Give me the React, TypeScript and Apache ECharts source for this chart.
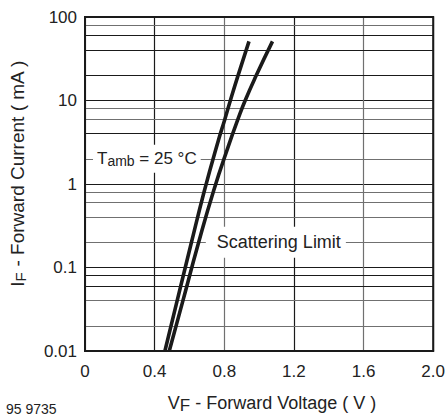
import React, { useEffect, useRef } from 'react';
import * as echarts from 'echarts';

// ---- data ----
const xMin = 0;
const xMax = 2.0;
const xInterval = 0.4;
const yMin = 0.01;
const yMax = 100;
const minorGridValues = [80, 60, 40, 20, 8, 6, 4, 2, 0.8, 0.6, 0.4, 0.2, 0.08, 0.06, 0.04, 0.02];
const minorGridDark = [false, true, true, true, false, false, true, false, false, false, false, false, true, true, false, false];

const curveLeftV = [0.459, 0.528, 0.608, 0.685, 0.766, 0.803, 0.835, 0.878, 0.942];
const curveLeftI = [0.01, 0.039, 0.187, 0.82, 3.32, 5.93, 10, 19.6, 51];
const curveRightV = [0.484, 0.561, 0.649, 0.738, 0.829, 0.878, 0.92, 0.982, 1.077];
const curveRightI = [0.01, 0.039, 0.187, 0.82, 3.06, 5.93, 10, 19.6, 51];

const tambLabelAt = [0.046, 2];
const scatterLabelAt = [0.694, 0.2];

const FONT = 'Liberation Sans, Arial, Helvetica, sans-serif';
const DARK = '#1a1a1a';
const GRAY = '#707070';

export default function App() {
  const ref = useRef<HTMLDivElement>(null);
  useEffect(() => {
    if (!ref.current) return;
    const chart = echarts.init(ref.current, undefined, { renderer: 'svg' });
    const left = curveLeftV.map((v, i) => [v, curveLeftI[i]]);
    const right = curveRightV.map((v, i) => [v, curveRightI[i]]);
    chart.setOption({
      animation: false,
      backgroundColor: '#fff',
      textStyle: { fontFamily: FONT },
      grid: { left: 85, right: 13, top: 17, bottom: 64, show: true, borderColor: DARK, borderWidth: 2, z: 5 },
      xAxis: {
        type: 'value',
        min: xMin,
        max: xMax,
        interval: xInterval,
        axisLine: { show: true, lineStyle: { color: DARK, width: 2 } },
        axisTick: { show: false },
        splitLine: { show: true, lineStyle: { color: [GRAY, DARK], width: 1.2 } },
        axisLabel: {
          margin: 12,
          color: '#222',
          fontSize: 17,
          fontFamily: FONT,
          formatter: (v: number) => (v === 0 ? '0' : v === 2 ? '{r|2.0}' : v.toFixed(1)),
          rich: { r: { fontSize: 17, fontFamily: FONT, color: '#222', padding: [0, 0, 6, 0] } },
        },
        name: '{m|V}{s|F}{m| - Forward Voltage ( V )}',
        nameLocation: 'middle',
        nameGap: 40,
        nameTextStyle: {
          padding: [0, 0, 0, 26],
          rich: {
            m: { fontSize: 18, fontFamily: FONT, color: '#222' },
            s: { fontSize: 17, fontFamily: FONT, color: '#222', padding: [6, 0, 0, 0] },
          },
        },
      },
      yAxis: {
        type: 'log',
        logBase: 10,
        min: yMin,
        max: yMax,
        axisLine: { show: true, lineStyle: { color: DARK, width: 2 } },
        axisTick: { show: false },
        splitLine: { show: true, lineStyle: { color: DARK, width: 1.2 } },
        axisLabel: {
          margin: 8,
          color: '#222',
          fontSize: 17,
          fontFamily: FONT,
          formatter: (v: number) => String(parseFloat(v.toPrecision(3))),
        },
        name: '{m|I}{s|F}{m| - Forward Current ( mA )}',
        nameLocation: 'middle',
        nameRotate: 90,
        nameGap: 57,
        nameTextStyle: {
          padding: [0, 0, 0, 21],
          rich: {
            m: { fontSize: 19, fontFamily: FONT, color: '#222' },
            s: { fontSize: 15, fontFamily: FONT, color: '#222', padding: [6, 0, 0, 0] },
          },
        },
      },
      series: [
        {
          type: 'line',
          data: left,
          smooth: 0.5,
          symbol: 'none',
          lineStyle: { color: DARK, width: 3.6 },
          z: 4,
          markLine: {
            silent: true,
            symbol: 'none',
            label: { show: false },
            z: 1,
            data: minorGridValues.map((v, i) => ({
              yAxis: v,
              lineStyle: { color: minorGridDark[i] ? DARK : GRAY, width: 1.2, type: 'solid' },
            })),
          },
        },
        {
          type: 'line',
          data: right,
          smooth: 0.5,
          symbol: 'none',
          lineStyle: { color: DARK, width: 3.6 },
          z: 4,
        },
      ],
    });
    const p1 = chart.convertToPixel({ gridIndex: 0 }, tambLabelAt) as number[];
    const p2 = chart.convertToPixel({ gridIndex: 0 }, scatterLabelAt) as number[];
    chart.setOption({
      graphic: [
        {
          type: 'text',
          z: 100,
          x: p1[0],
          y: p1[1],
          style: {
            text: '{m|T}{s|amb}{m| = 25 °C}',
            verticalAlign: 'middle',
            backgroundColor: '#fff',
            padding: [5, 4, 5, 4],
            rich: {
              m: { fontSize: 17, fontFamily: FONT, fill: '#222' },
              s: { fontSize: 14, fontFamily: FONT, fill: '#222', padding: [4, 0, 0, 0] },
            },
          },
        },
        {
          type: 'text',
          z: 100,
          x: p2[0],
          y: p2[1],
          style: {
            text: 'Scattering Limit',
            verticalAlign: 'middle',
            backgroundColor: '#fff',
            padding: [8, 5, 5, 11],
            font: `18px ${FONT}`,
            fill: '#222',
          },
        },
        {
          type: 'text',
          z: 100,
          left: 6,
          top: 402,
          style: { text: '95 9735', font: `14px ${FONT}`, fill: '#222' },
        },
      ],
    });
    return () => chart.dispose();
  }, []);
  return <div ref={ref} style={{ position: 'fixed', left: 0, top: 0, width: 448, height: 419 }} />;
}
